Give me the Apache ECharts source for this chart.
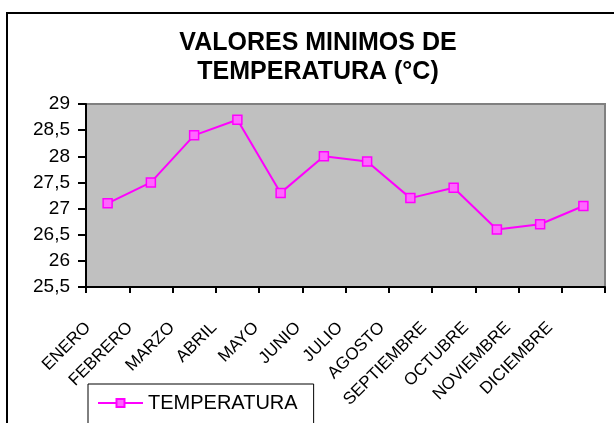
<!DOCTYPE html>
<html>
<head>
<meta charset="utf-8">
<script src="https://cdn.jsdelivr.net/npm/echarts@6/dist/echarts.min.js"></script>
<style>
  html, body { margin: 0; padding: 0; background: #fff; }
  #chart { width: 614px; height: 423px; }
</style>
</head>
<body>
<div id="chart"></div>
<script>
// meses y valores minimos
const meses = ['ENERO', 'FEBRERO', 'MARZO', 'ABRIL', 'MAYO', 'JUNIO', 'JULIO',
  'AGOSTO', 'SEPTIEMBRE', 'OCTUBRE', 'NOVIEMBRE', 'DICIEMBRE']
const temperatura = [27.1, 27.5, 28.4, 28.7, 27.3, 28.0, 27.9, 27.2, 27.4, 26.6, 26.7, 27.05]
const serieNombre = 'TEMPERATURA'
const titulo = 'VALORES MINIMOS DE\nTEMPERATURA (°C)'

const font = 'Liberation Sans, Arial, sans-serif'
const myChart = echarts.init(document.getElementById('chart'))

const options = {
  animation: false,
  backgroundColor: '#fff',
  graphic: [
    // borde exterior del grafico
    {
      type: 'rect',
      shape: { x: 7, y: 13, width: 640, height: 440 },
      style: { fill: null, stroke: '#000', lineWidth: 2 },
      silent: true
    },
    // titulo centrado un poco a la derecha, como en el original
    {
      type: 'text',
      x: 318,
      y: 29,
      style: {
        text: titulo,
        align: 'center',
        verticalAlign: 'top',
        fontFamily: font,
        fontWeight: 'bold',
        fontSize: 25,
        lineHeight: 29,
        fill: '#000'
      },
      silent: true
    }
  ],
  legend: {
    data: [serieNombre],
    left: 88,
    top: 384,
    borderColor: '#000',
    borderWidth: 1,
    padding: [9, 16, 20, 9],
    itemWidth: 45,
    itemHeight: 10,
    textStyle: { fontFamily: font, fontSize: 20, color: '#000' }
  },
  grid: [
    {
      left: 86,
      top: 104,
      right: 9,
      bottom: 136,
      show: true,
      backgroundColor: '#c0c0c0',
      borderColor: '#808080',
      borderWidth: 2
    },
    // solo para colocar las etiquetas giradas
    { left: 67, width: 504, top: 290, height: 1, show: false }
  ],
  xAxis: [
    {
      type: 'category',
      data: meses,
      gridIndex: 0,
      boundaryGap: true,
      axisLine: { lineStyle: { color: '#000', width: 2 } },
      axisTick: { show: true, interval: 0, length: 6, lineStyle: { color: '#000', width: 2 } },
      axisLabel: { show: false },
      splitLine: { show: false }
    },
    {
      type: 'category',
      data: meses,
      gridIndex: 1,
      axisLine: { show: false },
      axisTick: { show: false },
      axisLabel: {
        interval: 0,
        rotate: 45,
        margin: 34,
        fontFamily: font,
        fontSize: 17,
        color: '#000'
      }
    }
  ],
  yAxis: [
    {
      type: 'value',
      gridIndex: 0,
      min: 25.5,
      max: 29,
      interval: 0.5,
      axisLine: { show: true, lineStyle: { color: '#000', width: 2 } },
      axisTick: { show: true, length: 8, lineStyle: { color: '#000', width: 2 } },
      splitLine: { show: false },
      axisLabel: {
        margin: 16,
        fontFamily: font,
        fontSize: 19,
        color: '#000',
        formatter: v => String(v).replace('.', ',')
      }
    },
    { type: 'value', gridIndex: 1, show: false }
  ],
  series: [
    {
      name: serieNombre,
      type: 'line',
      xAxisIndex: 0,
      yAxisIndex: 0,
      data: temperatura,
      symbol: 'rect',
      symbolSize: 9,
      lineStyle: { color: '#ff00ff', width: 2 },
      itemStyle: { color: '#ff66ff', borderColor: '#ff00ff', borderWidth: 1.5 }
    }
  ]
}
myChart.setOption(options)
</script>
</body>
</html>
